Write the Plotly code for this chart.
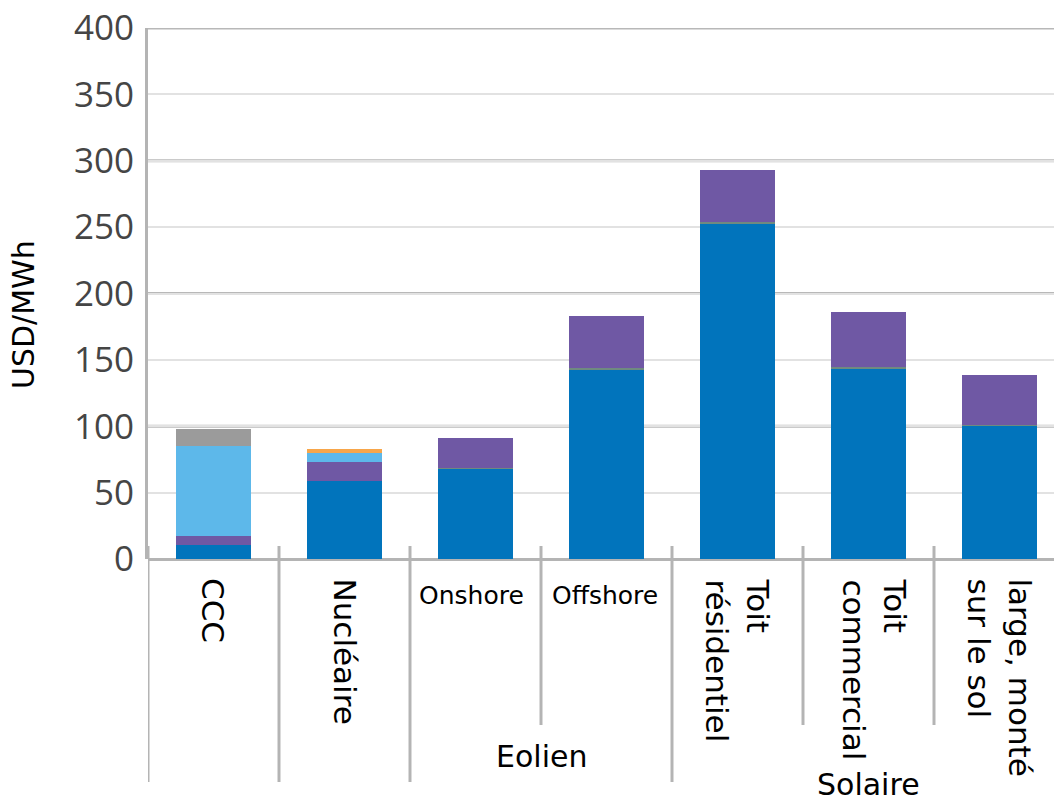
import plotly.graph_objects as go

# ---- data ----
categories = ["CCC", "Nucléaire", "Onshore", "Offshore", "Toit résidentiel", "Toit commercial", "large, monté sur le sol"]
cat_labels = ["CCC", "Nucléaire", "Onshore", "Offshore", "Toit<br>résidentiel", "Toit<br>commercial", "large, monté<br>sur le sol"]
label_rotated = [True, True, False, False, True, True, True]
label_xshift = [0, 0, -4, -2, 0, 6, 0]
groups = ["Eolien", "Solaire"]
group_members = [[2, 3], [4, 5, 6]]

capital = [10.5, 59.0, 67.8, 142.9, 252.5, 143.5, 100.5]
autres = [0, 0, 0.6, 1.0, 1.2, 1.0, 0.8]
om = [7.0, 13.8, 22.5, 39.0, 39.3, 41.3, 37.3]
combustible = [68.0, 6.8, 0, 0, 0, 0, 0]
carbone = [12.5, 0, 0, 0, 0, 0, 0]
dechets = [0, 3.3, 0, 0, 0, 0, 0]

series = [
    ("Capital", capital, "#0174bc"),
    ("Autres", autres, "#6f8a80"),
    ("O&M", om, "#6f58a4"),
    ("Combustible", combustible, "#5db8ea"),
    ("Carbone", carbone, "#9b9b9b"),
    ("Déchets", dechets, "#f7a64a"),
]

y_ticks = [0, 50, 100, 150, 200, 250, 300, 350, 400]
major_grid = [100, 200, 300, 400]
full_separators = [-0.5, 0.5, 1.5, 3.5]
short_separators = [2.5, 4.5, 5.5]

# ---- layout constants ----
W, H = 1054, 802
ML, MT, MB = 148, 28, 243
plot_h = H - MT - MB
x_pos = list(range(len(categories)))
cat_px = 131.0
x_range = [-0.5, -0.5 + (W - ML) / cat_px]

def py(p):
    return (H - MB - p) / plot_h

fig = go.Figure()
for name, vals, col in series:
    fig.add_trace(go.Bar(
        x=x_pos, y=vals, name=name, width=0.565,
        marker=dict(color=col, line=dict(width=0)),
        showlegend=False,
    ))

shapes = []
for g in major_grid:
    shapes.append(dict(type="line", xref="paper", yref="y", x0=0, x1=1, y0=g, y1=g,
                       line=dict(color="#b8b8b8", width=3), layer="below"))
for s in full_separators:
    shapes.append(dict(type="line", xref="x", yref="paper", x0=s, x1=s, y0=py(546), y1=py(782),
                       line=dict(color="#b4b4b4", width=3)))
for s in short_separators:
    shapes.append(dict(type="line", xref="x", yref="paper", x0=s, x1=s, y0=py(546), y1=py(725),
                       line=dict(color="#b4b4b4", width=3)))

annotations = []
for i, lab in enumerate(cat_labels):
    if label_rotated[i]:
        annotations.append(dict(x=x_pos[i], xref="x", y=py(576), yref="paper", text=lab,
                                textangle=90, xanchor="center", yanchor="top", align="left",
                                showarrow=False, xshift=label_xshift[i],
                                font=dict(family="DejaVu Sans", size=31, color="#000000")))
    else:
        annotations.append(dict(x=x_pos[i], xref="x", y=py(595), yref="paper", text=lab,
                                xanchor="center", yanchor="middle", showarrow=False,
                                xshift=label_xshift[i],
                                font=dict(family="DejaVu Sans", size=25, color="#000000")))
group_y = [py(756), py(784)]
for g, mem, gy in zip(groups, group_members, group_y):
    cx = sum(x_pos[m] for m in mem) / len(mem)
    annotations.append(dict(x=cx, xref="x", y=gy, yref="paper", text=g, xanchor="center",
                            yanchor="middle", showarrow=False,
                            font=dict(family="DejaVu Sans", size=30, color="#000000")))
annotations.append(dict(x=0, xref="paper", y=py(315), yref="paper", text="USD/MWh",
                        textangle=-90, xanchor="center", yanchor="middle", xshift=-125,
                        showarrow=False, font=dict(family="DejaVu Sans", size=30, color="#000000")))

fig.update_layout(
    template="none",
    width=W, height=H,
    margin=dict(l=ML, r=0, t=MT, b=MB, pad=0),
    paper_bgcolor="white", plot_bgcolor="white",
    barmode="stack",
    shapes=shapes,
    annotations=annotations,
    xaxis=dict(range=x_range, showgrid=False, zeroline=False, showticklabels=False,
               showline=False, ticks=""),
    yaxis=dict(range=[0, 400], tickvals=y_ticks, showgrid=True, gridcolor="#e2e2e2", gridwidth=2,
               zeroline=True, zerolinecolor="#b4b4b4", zerolinewidth=3,
               showline=True, linecolor="#b4b4b4", linewidth=3, ticks="",
               ticklabelstandoff=4,
               tickfont=dict(family="Open Sans", size=35, color="#454545")),
)

fig.write_html("out.html", config={"displayModeBar": False},
               post_script="document.body.style.margin='0';document.body.style.overflow='hidden';")
